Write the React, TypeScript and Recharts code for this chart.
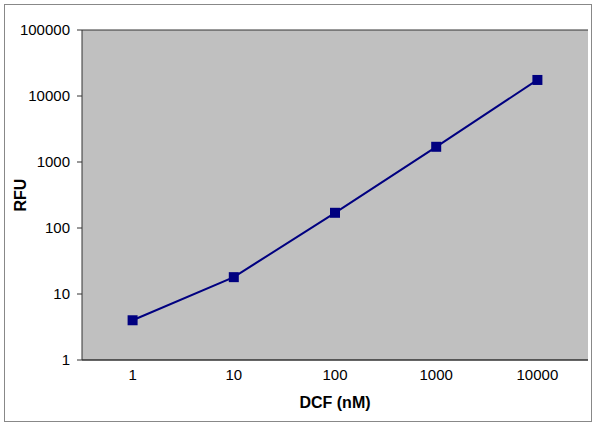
import { LineChart, Line, XAxis, YAxis, CartesianGrid } from 'recharts';

const concentrations = ['1', '10', '100', '1000', '10000'];
const rfuValues = [4, 18, 170, 1700, 17500];
const yTicks = [1, 10, 100, 1000, 10000, 100000];

const data = concentrations.map((x, i) => ({ x, rfu: rfuValues[i] }));

const FONT = '"Liberation Sans", Arial, sans-serif';
const NAVY = '#000080';

// square marker like the Excel original
const SquareDot = (props: any) => {
  const { cx, cy } = props;
  if (cx == null || cy == null) return null;
  return <rect x={cx - 5} y={cy - 5} width={10} height={10} fill={NAVY} />;
};

const YTitle = ({ viewBox }: any) => {
  const x = viewBox.x + 26;
  const y = viewBox.y + viewBox.height / 2;
  return (
    <text x={x} y={y} transform={`rotate(-90 ${x} ${y})`} textAnchor="middle"
      fontFamily={FONT} fontSize={16} fontWeight="bold" fill="#000">
      RFU
    </text>
  );
};

const XTitle = ({ viewBox }: any) => (
  <text x={viewBox.x + viewBox.width / 2} y={viewBox.y + 48} textAnchor="middle"
    fontFamily={FONT} fontSize={16} fontWeight="bold" fill="#000">
    DCF (nM)
  </text>
);

const App = () => {
  return (
    <div style={{ position: 'absolute', left: 0, top: 0, width: 595, height: 426, background: '#fff' }}>
      <div style={{ position: 'absolute', left: 4, top: 4, width: 586, height: 416, border: '1px solid #888' }} />
      <LineChart
        width={595}
        height={426}
        data={data}
        margin={{ top: 30, right: 7, left: 0, bottom: 0 }}
        style={{ position: 'absolute', left: 0, top: 0 }}
      >
        <CartesianGrid vertical={false} fill="#C0C0C0" stroke="#333" strokeOpacity={1} />
        <XAxis
          dataKey="x"
          scale="band"
          height={66}
          tickLine={false}
          axisLine={{ stroke: '#333' }}
          tickSize={6}
          tickMargin={3}
          tick={{ fontFamily: FONT, fontSize: 15, fill: '#000' }}
          label={<XTitle />}
        />
        <YAxis
          yAxisId="left"
          type="number"
          scale="log"
          domain={[1, 100000]}
          ticks={yTicks}
          allowDataOverflow
          width={82}
          tickSize={5}
          tickMargin={7}
          tickLine={{ stroke: '#333' }}
          axisLine={{ stroke: '#333' }}
          tick={{ fontFamily: FONT, fontSize: 15, fill: '#000' }}
          label={<YTitle />}
        />
        <YAxis
          yAxisId="right"
          orientation="right"
          type="number"
          scale="log"
          domain={[1, 100000]}
          ticks={yTicks}
          width={0}
          tick={false}
          tickLine={false}
          axisLine={{ stroke: '#888' }}
        />
        <Line
          yAxisId="left"
          type="linear"
          dataKey="rfu"
          stroke={NAVY}
          strokeWidth={2}
          dot={<SquareDot />}
          activeDot={false}
          isAnimationActive={false}
        />
      </LineChart>
    </div>
  );
};

export default App;
